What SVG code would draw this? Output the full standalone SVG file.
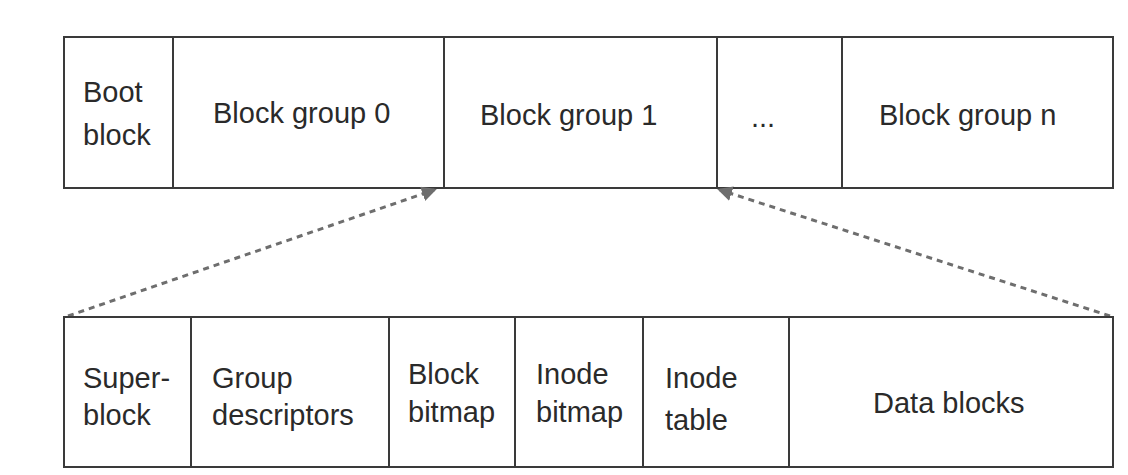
<svg xmlns="http://www.w3.org/2000/svg" width="1128" height="475" viewBox="0 0 1128 475">
  <style>
    .cell { fill: #ffffff; stroke: #3a3a3a; stroke-width: 2; }
    .lbl { font-family: "Liberation Sans", Arial, sans-serif; font-size: 29px; fill: #2a2a2a; }
    .link { fill: none; stroke: #6e6e6e; stroke-width: 3; stroke-dasharray: 6 5; }
  </style>
  <defs>
    <marker id="tip" viewBox="0 0 10 10" refX="8" refY="5" markerWidth="5" markerHeight="5" orient="auto">
      <path d="M0,0 L10,5 L0,10 z" fill="#6e6e6e"/>
    </marker>
  </defs>
  <rect width="1128" height="475" fill="#ffffff"/>

  <!-- Disk partition: boot block followed by block groups -->
  <g id="partition">
    <g id="boot-block">
      <rect class="cell" x="64" y="37" width="109" height="151"/>
      <text class="lbl" x="83" y="102">Boot</text>
      <text class="lbl" x="83" y="145">block</text>
    </g>
    <g id="block-group-0">
      <rect class="cell" x="173" y="37" width="271" height="151"/>
      <text class="lbl" x="213" y="123">Block group 0</text>
    </g>
    <g id="block-group-1">
      <rect class="cell" x="444" y="37" width="273" height="151"/>
      <text class="lbl" x="480" y="125">Block group 1</text>
    </g>
    <g id="ellipsis">
      <rect class="cell" x="717" y="37" width="125" height="151"/>
      <text class="lbl" x="751" y="127">...</text>
    </g>
    <g id="block-group-n">
      <rect class="cell" x="842" y="37" width="271" height="151"/>
      <text class="lbl" x="879" y="125">Block group n</text>
    </g>
  </g>

  <!-- Expansion of a single block group -->
  <g id="connectors">
    <path class="link" d="M68,316 L434,190" marker-end="url(#tip)"/>
    <path class="link" d="M1110,316 L720,190" marker-end="url(#tip)"/>
  </g>

  <!-- Layout of one block group -->
  <g id="group-layout">
    <g id="superblock">
      <rect class="cell" x="64" y="317" width="127" height="150"/>
      <text class="lbl" x="83" y="388">Super-</text>
      <text class="lbl" x="83" y="425">block</text>
    </g>
    <g id="group-descriptors">
      <rect class="cell" x="191" y="317" width="198" height="150"/>
      <text class="lbl" x="212" y="388">Group</text>
      <text class="lbl" x="212" y="425">descriptors</text>
    </g>
    <g id="block-bitmap">
      <rect class="cell" x="389" y="317" width="126" height="150"/>
      <text class="lbl" x="408" y="384">Block</text>
      <text class="lbl" x="408" y="422">bitmap</text>
    </g>
    <g id="inode-bitmap">
      <rect class="cell" x="515" y="317" width="128" height="150"/>
      <text class="lbl" x="536" y="384">Inode</text>
      <text class="lbl" x="536" y="422">bitmap</text>
    </g>
    <g id="inode-table">
      <rect class="cell" x="643" y="317" width="146" height="150"/>
      <text class="lbl" x="665" y="388">Inode</text>
      <text class="lbl" x="665" y="430">table</text>
    </g>
    <g id="data-blocks">
      <rect class="cell" x="789" y="317" width="324" height="150"/>
      <text class="lbl" x="873" y="413">Data blocks</text>
    </g>
  </g>
</svg>
